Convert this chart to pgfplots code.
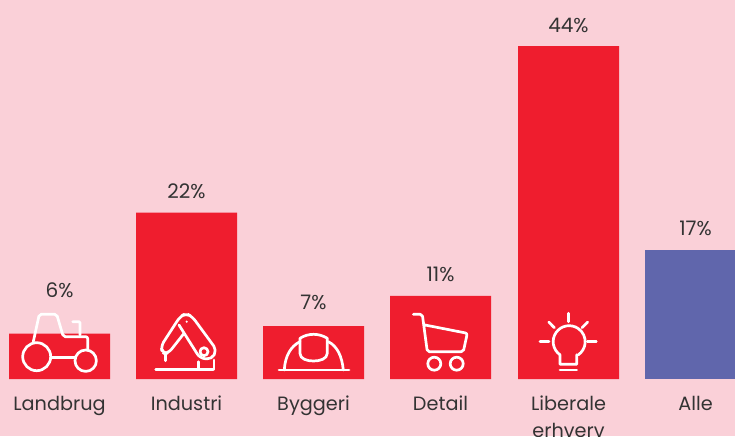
\documentclass[border=0pt]{standalone}
\usepackage{pgfplots}
\usepackage{fontspec}
\pgfplotsset{compat=1.18}
\setmainfont{Poppins}
\definecolor{bg}{HTML}{FAD0D8}
\definecolor{barred}{HTML}{EF1D2E}
\definecolor{barblue}{HTML}{6066AC}
\definecolor{txt}{HTML}{333333}
\begin{document}
\begin{tikzpicture}[x=1pt,y=1pt]
\path[use as bounding box] (0,-57) rectangle (735,379);
\clip (0,-57) rectangle (735,379);
\fill[bg] (0,-57) rectangle (735,379);
\begin{axis}[
  at={(0,0)}, anchor=south west,
  scale only axis, width=735pt, height=379pt,
  xmin=0, xmax=735, ymin=0, ymax=50.08,
  hide y axis,
  axis x line*=bottom,
  x axis line style={draw=none},
  major tick length=0pt,
  xtick={59.5,186.5,313.5,440.5,568.5,695.5},
  xticklabels={\strut Landbrug,\strut Industri,\strut Byggeri,\strut Detail,{\strut Liberale\\\strut erhverv},\strut Alle},
  xticklabel style={font=\fontsize{19.25}{27}\selectfont, text=txt, align=center, anchor=north, inner sep=0pt, yshift=-12pt},
  clip=false,
  nodes near coords={\pgfmathprintnumber[fixed,precision=0]{\pgfplotspointmeta}\%},
  every node near coord/.style={font=\fontsize{20}{22}\selectfont, text=txt, anchor=south, yshift=10pt},
  /pgf/number format/assume math mode=true,
  coordinate style/.condition={x<100}{yshift=22pt},
  coordinate style/.condition={x>300 && x<320}{yshift=3pt},
  coordinate style/.condition={x>690}{yshift=1pt},
]
\addplot[ybar, bar width=101pt, fill=barred, draw=none] coordinates {(59.5,6) (186.5,22) (313.5,7) (440.5,11) (568.5,44)};
\addplot[ybar, bar width=101pt, fill=barblue, draw=none] coordinates {(695.5,17)};
\end{axis}
\begin{scope}[x=1pt,y=-1pt,yshift=379pt,white,line width=2.7pt,line cap=round,line join=round]
% tractor
\draw (36.7,356.7) circle[radius=14];
\draw (85.7,360.7) circle[radius=10.7];
\draw (50.7,357.3) -- (75,357.3);
\draw[rounded corners=2pt] (33.3,341.7) -- (39.3,314.3) -- (56.7,314.3) -- (63.3,336.7) -- (87.7,336.7) -- (87.7,350);
\draw[rounded corners=1pt] (72.7,321.7) -- (80,321.7) -- (80,335);
% robot arm
\draw (155.7,369.3) -- (213.3,369.3);
\draw (198.3,361.7) -- (198.3,369.3);
\draw (214,369.3) -- (214,360);
\draw[rounded corners=5pt] (179,325) -- (200,358.3) -- (211.7,359.3) -- (216.7,350) -- (192.3,316.7) -- (186,313.3) -- (180,316.7) -- (161,346) -- (162.3,353.3) -- (168.3,353.3) -- (183.3,334.3);
\draw (204,351.7) circle[radius=4];
\fill (186.7,321.7) circle[radius=1.2];
\draw (165.7,354) -- (165.7,360.7);
% helmet
\draw (279,370) -- (349,370);
\draw (284.3,370) .. controls (285,356) and (291,346) .. (300,341.7);
\draw (328.3,341.7) .. controls (337,346) and (342,356) .. (343.3,370);
\draw (300,338.3) .. controls (308,333) and (319,333) .. (327.3,338.3) -- (327.3,353.3) .. controls (327,359) and (320,361) .. (313.5,361) .. controls (307,361) and (300,359) .. (300,353.3) -- cycle;
% cart
\draw[rounded corners=2pt] (413.3,314.3) -- (422.3,314.3) -- (427.3,351.7) -- (463.3,351.7) -- (467.3,333.3) -- (425,325);
\draw (434.3,363.7) circle[radius=6.5];
\draw (456.7,363.7) circle[radius=6.5];
% bulb
\draw (568.3,313.3) -- (568.3,321.7);
\draw (548.7,322) -- (554.3,327.7);
\draw (587.7,322) -- (582,327.7);
\draw (540,341.3) -- (549,341.3);
\draw (587.3,341.3) -- (596.3,341.3);
\draw (576.7,354.8) -- (576.7,364.3) -- (560,364.3) -- (560,354.8) arc[start angle=125,end angle=415,radius=16];
\draw (560,370) -- (576.7,370);
\end{scope}
\end{tikzpicture}
\end{document}
